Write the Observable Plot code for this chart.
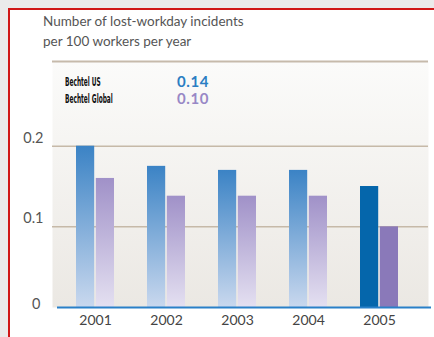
<!DOCTYPE html>
<html><head><meta charset="utf-8">
<script src="https://cdn.jsdelivr.net/npm/d3@7"></script>
<script src="https://cdn.jsdelivr.net/npm/@observablehq/plot@0.6"></script>
<style>
html,body{margin:0;padding:0;background:#ebebeb;width:434px;height:337px;overflow:hidden;}
#card{position:absolute;left:8px;top:8px;width:440px;height:340px;background:#fff;border-left:2px solid #d01818;border-top:2px solid #d01818;}
#title{position:absolute;left:43px;top:11px;font:13.5px Lato,sans-serif;color:#555;line-height:20px;white-space:nowrap;}
#chart{position:absolute;left:0;top:50px;}
#legend{position:absolute;left:65px;top:73px;}
.lrow{position:relative;height:17px;}
.lname{position:absolute;left:0;top:1px;font:bold 12.5px "Liberation Sans Narrow","DejaVu Sans Condensed",sans-serif;color:#111;transform:scaleX(0.52);transform-origin:left center;white-space:nowrap;}
.lval{position:absolute;left:112px;top:-1px;font:bold 15px Lato,sans-serif;letter-spacing:0.6px;}
</style></head>
<body>
<div id="card"></div>
<div id="title">Number of lost-workday incidents<br>per 100 workers per year</div>
<div id="chart"></div>
<div id="legend"></div>
<script>
const years = ["2001", "2002", "2003", "2004", "2005"];
const usValues = [0.20, 0.175, 0.17, 0.17, 0.15];
const globalValues = [0.16, 0.138, 0.138, 0.138, 0.10];
const seriesNames = ["Bechtel US", "Bechtel Global"];
const latestValues = [0.14, 0.10];
const yTicks = [0, 0.1, 0.2];

const usColor = "#2b7ec3";
const globalColor = "#9888c6";

// legend
const legend = document.getElementById("legend");
seriesNames.forEach((n, i) => {
  const row = document.createElement("div");
  row.className = "lrow";
  const a = document.createElement("span");
  a.className = "lname"; a.textContent = n;
  const b = document.createElement("span");
  b.className = "lval"; b.textContent = latestValues[i].toFixed(2);
  b.style.color = i === 0 ? usColor : globalColor;
  row.appendChild(a); row.appendChild(b);
  legend.appendChild(row);
});

const last = years[years.length - 1];
const usRows = years.map((y, i) => ({year: y, value: usValues[i]}));
const glRows = years.map((y, i) => ({year: y, value: globalValues[i]}));

function defs() {
  const d = d3.create("svg:defs");
  const grad = (id, top, bottom) => {
    const g = d.append("linearGradient").attr("id", id).attr("x1", 0).attr("y1", 0).attr("x2", 0).attr("y2", 1);
    g.append("stop").attr("offset", "0%").attr("stop-color", top);
    g.append("stop").attr("offset", "100%").attr("stop-color", bottom);
  };
  grad("gUS", "#3b83c5", "#c9d8ee");
  grad("gGL", "#a091c8", "#e4e0f1");
  grad("gPanel", "#fbfbfa", "#ebe8e3");
  return d.node();
}

const half = 19.8;
const chart = Plot.plot({
  width: 434,
  height: 287,
  marginLeft: 52,
  marginRight: 6,
  marginTop: 11,
  marginBottom: 30,
  style: {background: "transparent", fontFamily: "Lato, sans-serif"},
  x: {domain: years, range: [42, 431], padding: 0.47, axis: null},
  y: {domain: [0, 0.305], axis: null},
  marks: [
    defs,
    Plot.frame({fill: "url(#gPanel)", stroke: "none"}),
    Plot.ruleY([0.305], {stroke: "#c6baab", strokeWidth: 2}),
    Plot.ruleY([0.1, 0.2], {stroke: "#c6b9a8", strokeWidth: 1.5}),
    Plot.barY(usRows, {x: "year", y: "value", insetRight: half,
      fill: d => d.year === last ? "#0566ab" : "url(#gUS)"}),
    Plot.barY(glRows, {x: "year", y: "value", insetLeft: half,
      fill: d => d.year === last ? "#8a79b9" : "url(#gGL)"}),
    Plot.ruleY([0], {stroke: "#2a80c8", strokeWidth: 2, insetLeft: 5, insetRight: -3}),
    Plot.text(yTicks.filter(d => d > 0), {y: d => d, text: d => String(d), frameAnchor: "left", textAnchor: "end", dx: -9, dy: -8, fontSize: 14.5, fill: "#555"}),
    Plot.text(yTicks.filter(d => d === 0), {y: d => d, text: d => String(d), frameAnchor: "left", textAnchor: "end", dx: -12, dy: -3, fontSize: 14.5, fill: "#555"}),
    Plot.text(years, {x: d => d, text: d => d, frameAnchor: "bottom", dy: 17, fontSize: 14, fill: "#444"})
  ]
});
document.getElementById("chart").appendChild(chart);
</script>
</body></html>
